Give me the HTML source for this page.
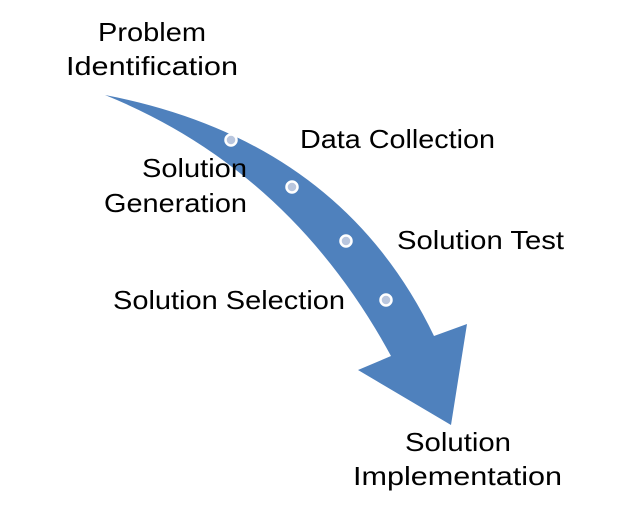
<!DOCTYPE html>
<html><head><style>html,body{margin:0;padding:0;background:#fff;}svg{display:block}</style></head>
<body>
<svg width="640" height="515" viewBox="0 0 640 515" xmlns="http://www.w3.org/2000/svg">
<path d="M105,95 Q340,140 434,336 L467,324 L451,425 L358,370 L391,356 Q290,170 105,95 Z" fill="#4f81bd"/>
<g fill="#b9c6de" stroke="#fff" stroke-width="2.5">
<circle cx="231" cy="140" r="5.5"/>
<circle cx="292" cy="187" r="5.5"/>
<circle cx="346" cy="241" r="5.5"/>
<circle cx="386" cy="300" r="5.5"/>
</g>
<g font-family="Liberation Sans, sans-serif" font-size="26" fill="#000" lengthAdjust="spacingAndGlyphs">
<text x="98" y="41" textLength="108" lengthAdjust="spacingAndGlyphs">Problem</text>
<text x="66" y="75" textLength="172" lengthAdjust="spacingAndGlyphs">Identification</text>
<text x="300" y="148" textLength="195" lengthAdjust="spacingAndGlyphs">Data Collection</text>
<text x="142" y="177" textLength="105" lengthAdjust="spacingAndGlyphs">Solution</text>
<text x="104" y="212" textLength="143" lengthAdjust="spacingAndGlyphs">Generation</text>
<text x="397" y="249" textLength="167" lengthAdjust="spacingAndGlyphs">Solution Test</text>
<text x="113" y="309" textLength="232" lengthAdjust="spacingAndGlyphs">Solution Selection</text>
<text x="405" y="451" textLength="106" lengthAdjust="spacingAndGlyphs">Solution</text>
<text x="353" y="485" textLength="209" lengthAdjust="spacingAndGlyphs">Implementation</text>
</g>
</svg>
</body></html>
